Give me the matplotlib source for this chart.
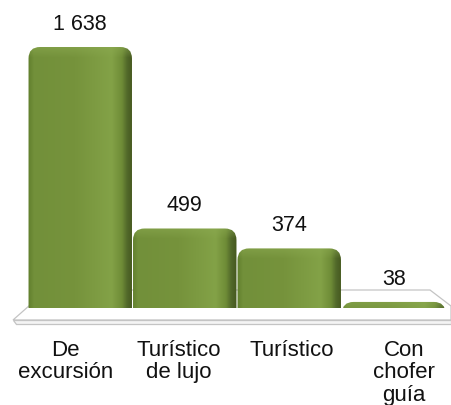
"""Bar chart of tour categories with rounded, shaded columns on a light floor."""

import matplotlib

matplotlib.use("Agg")

import matplotlib.pyplot as plt
import numpy as np
from matplotlib.colors import to_rgb
from matplotlib.patches import FancyBboxPatch, Polygon

categories = ["De\nexcursión", "Turístico\nde lujo", "Turístico", "Con\nchofer\nguía"]
values = [1638, 499, 374, 38]
value_labels = ["1 638", "499", "374", "38"]

plt.rcParams["font.family"] = ["Liberation Sans", "DejaVu Sans"]

W, H = 451, 405
BASE_PX = 308  # baseline, pixels from the top of the figure

fig = plt.figure(figsize=(W / 100, H / 100), dpi=100)
ax = fig.add_axes([0, (H - BASE_PX) / H, 1, BASE_PX / H])
xlim = (-0.768, 3.548)
ylim = (0, 1933)

px_per_x = W / (xlim[1] - xlim[0])
px_per_y = BASE_PX / (ylim[1] - ylim[0])
aspect = px_per_x / px_per_y


def px(xp, yp):
    """Figure pixel position -> axes fraction."""
    return (xp / W, (BASE_PX - yp) / BASE_PX)


# floor slab the columns stand on
floor_top = Polygon(
    [px(13, 320), px(47, 290), px(430, 290), px(451, 306), px(451, 320)],
    closed=True, transform=ax.transAxes, clip_on=False,
    facecolor="white", edgecolor="#c4c4c4", lw=0.9, zorder=1,
)
floor_front = Polygon(
    [px(13, 320), px(451, 320), px(451, 323.5), px(16, 323.5)],
    closed=True, transform=ax.transAxes, clip_on=False,
    facecolor="#f4f4f4", edgecolor="#c4c4c4", lw=0.9, zorder=1,
)
ax.add_patch(floor_top)
ax.add_patch(floor_front)

# horizontal colour profile of a column (left edge -> right edge)
stops = [0.0, 0.05, 0.45, 0.80, 0.90, 0.95, 1.0]
cols = ["#62802e", "#72903a", "#76933c", "#83a247", "#6f8c37", "#52692a", "#46591f"]
stop_rgb = np.array([to_rgb(c) for c in cols])
highlight = np.array(to_rgb("#8dab52"))

x = np.arange(len(values))
bars = ax.bar(x, values, width=1.0, color="none", zorder=3)

for rect, label in zip(bars, value_labels):
    bx, bw, bh = rect.get_x(), rect.get_width(), rect.get_height()
    shape = FancyBboxPatch(
        (bx + 0.005, -200), bw - 0.01, bh + 200,
        boxstyle="round,pad=0,rounding_size=0.11",
        mutation_aspect=aspect, facecolor="none", edgecolor="none", zorder=3,
    )
    ax.add_patch(shape)

    n_rows = max(int(round(bh * px_per_y)), 2)
    t = np.linspace(0, 1, 80)
    row = np.stack([np.interp(t, stops, stop_rgb[:, k]) for k in range(3)], axis=-1)
    depth = np.arange(n_rows)[:, None, None]
    lift = np.clip(1 - depth / 10.0, 0, 1) * 0.5
    shade = row[None, :, :] * (1 - lift) + highlight * lift
    img = ax.imshow(
        shade, extent=(bx, bx + bw, 0, bh), aspect="auto",
        interpolation="bilinear", zorder=3,
    )
    img.set_clip_path(shape)

    ax.annotate(
        label, (bx + bw / 2, bh), xytext=(0, 12.5), textcoords="offset points",
        ha="center", va="baseline", fontsize=15.5, color="#111111",
    )

label_pos = 1.5 + (x - 1.5) * 1.08 - 0.02
ax.set_xticks(label_pos, categories, fontsize=16, linespacing=1.08)
ax.tick_params(axis="x", length=0, pad=23, colors="#111111")
ax.set_yticks([])
for spine in ax.spines.values():
    spine.set_visible(False)
ax.set_xlim(*xlim)
ax.set_ylim(*ylim)

fig.savefig("out.png", dpi=100)
